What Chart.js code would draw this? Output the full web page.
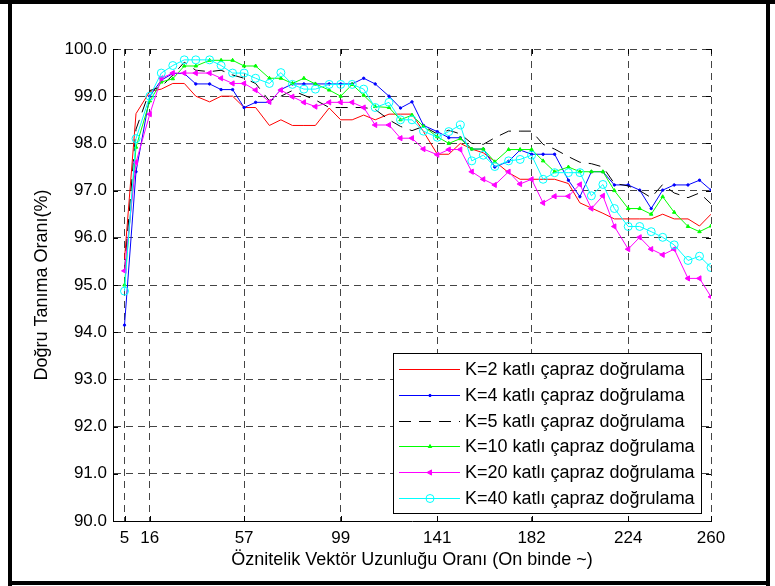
<!DOCTYPE html>
<html>
<head>
<meta charset="utf-8">
<script src="https://cdn.jsdelivr.net/npm/chart.js@4.4.1/dist/chart.umd.min.js"></script>
<style>
html,body{margin:0;padding:0;background:#fff;}
#wrap{position:relative;width:775px;height:586px;}
</style>
</head>
<body>
<div id="wrap"><canvas id="c" width="775" height="586"></canvas></div>
<script>
// ---- data ----
const xValues = [5,10,16,21,26,31,36,42,47,52,57,62,68,73,78,83,88,94,99,104,109,114,120,125,130,135,141,146,151,156,161,166,172,177,182,187,192,198,203,208,213,218,224,229,234,239,244,250,255,260];
const xTickValues = [5,16,57,99,141,182,224,260];
const yMin = 90, yMax = 100, yStep = 1;
const seriesLabels = [
  "K=2 katlı çapraz doğrulama",
  "K=4 katlı çapraz doğrulama",
  "K=5 katlı çapraz doğrulama",
  "K=10 katlı çapraz doğrulama",
  "K=20 katlı çapraz doğrulama",
  "K=40 katlı çapraz doğrulama"
];
const k2 = [95.55,98.63,99.1,99.15,99.27,99.27,99.0,98.88,99.0,99.0,98.76,98.76,98.38,98.5,98.38,98.38,98.38,98.75,98.5,98.5,98.6,98.5,98.62,98.62,98.62,98.25,97.77,97.77,98.0,97.88,97.8,97.62,97.38,97.24,97.24,97.24,97.24,97.15,96.74,96.63,96.52,96.4,96.4,96.4,96.4,96.5,96.4,96.4,96.25,96.5];
const k4 = [94.15,97.4,99.0,99.34,99.48,99.48,99.26,99.26,99.14,99.14,98.76,98.87,98.87,99.14,99.26,99.26,99.26,99.26,99.26,99.26,99.38,99.26,99.0,98.75,98.88,98.38,98.25,98.12,98.12,97.88,97.88,97.5,97.62,97.86,97.77,97.77,97.77,97.22,96.87,97.4,97.4,97.12,97.12,97.01,96.62,97.01,97.12,97.12,97.22,97.01];
const k5 = [95.3,98.3,99.12,99.2,99.45,99.72,99.55,99.52,99.55,99.45,99.38,99.27,98.9,99.0,99.12,99.02,98.92,98.76,98.76,98.76,98.76,98.72,98.5,98.36,98.27,98.36,98.2,98.28,98.2,98.0,97.98,98.12,98.26,98.26,98.26,97.98,97.88,97.72,97.6,97.57,97.5,97.15,97.1,97.0,96.85,97.13,96.95,96.85,96.95,96.72];
const k10 = [95.0,97.92,98.9,99.3,99.37,99.64,99.64,99.76,99.76,99.76,99.64,99.64,99.38,99.38,99.27,99.38,99.26,99.13,99.0,99.25,99.02,98.78,98.76,98.5,98.6,98.36,98.14,98.0,98.1,97.88,97.88,97.61,97.87,97.87,97.87,97.63,97.4,97.5,97.4,97.4,97.4,97.0,96.62,96.62,96.5,96.87,96.54,96.24,96.13,96.25];
const k20 = [95.3,97.6,98.62,99.38,99.49,99.49,99.49,99.49,99.38,99.27,99.27,99.13,98.88,99.13,98.99,98.87,98.78,98.87,98.87,98.87,98.76,98.39,98.39,98.11,98.11,97.88,97.76,97.87,97.87,97.4,97.24,97.12,97.4,97.14,97.24,96.74,96.88,96.88,97.13,96.62,96.89,96.24,95.76,96.01,95.76,95.64,95.76,95.14,95.14,94.75];
const k40 = [94.87,98.1,99.0,99.49,99.65,99.77,99.77,99.77,99.65,99.49,99.49,99.38,99.27,99.5,99.25,99.15,99.15,99.25,99.25,99.25,99.15,98.76,98.87,98.5,98.5,98.26,98.13,98.25,98.39,97.63,97.75,97.51,97.63,97.66,97.75,97.24,97.38,97.38,97.38,96.89,97.13,96.62,96.24,96.24,96.13,96.01,95.85,95.52,95.61,95.37];
const xTitle = "Öznitelik Vektör Uzunluğu Oranı (On binde ~)";
const yTitle = "Doğru Tanıma Oranı(%)";

// ---- styles ----
const FONT = "'Liberation Sans', Arial, Helvetica, sans-serif";
const seriesValues = [k2, k4, k5, k10, k20, k40];
const styles = [
  {color:'#ff0000', dash:[], pointStyle:'circle', radius:0, rotation:0, fill:'#ff0000'},
  {color:'#0000ff', dash:[], pointStyle:'circle', radius:1.2, rotation:0, fill:'#0000ff'},
  {color:'#000000', dash:[12,8], pointStyle:'circle', radius:0, rotation:0, fill:'#000000'},
  {color:'#00ff00', dash:[], pointStyle:'triangle', radius:2, rotation:0, fill:'#00ff00'},
  {color:'#ff00ff', dash:[], pointStyle:'triangle', radius:3, rotation:-90, fill:'#ff00ff'},
  {color:'#00ffff', dash:[], pointStyle:'circle', radius:4, rotation:0, fill:'rgba(0,0,0,0)'}
];

const datasets = seriesValues.map((arr, i) => ({
  label: seriesLabels[i],
  data: xValues.map((x, j) => ({x: x, y: arr[j]})),
  borderColor: styles[i].color,
  borderWidth: 1,
  borderDash: styles[i].dash,
  pointStyle: styles[i].pointStyle,
  pointRadius: styles[i].radius,
  pointRotation: styles[i].rotation,
  pointBackgroundColor: styles[i].fill,
  pointBorderColor: styles[i].color,
  pointBorderWidth: 1,
  tension: 0,
  fill: false,
  order: seriesValues.length - 1 - i
}));

const frameAndLegend = {
  id: 'frameAndLegend',
  afterDraw(chart) {
    const ctx = chart.ctx;
    const xs = chart.scales.x, ys = chart.scales.y;
    const ca = chart.chartArea;
    ctx.save();
    // inward tick marks (left/right, bottom/top)
    ctx.strokeStyle = '#000';
    ctx.lineWidth = 1;
    ctx.setLineDash([]);
    ctx.beginPath();
    ys.ticks.forEach(t => {
      const py = Math.round(ys.getPixelForValue(t.value)) + 0.5;
      ctx.moveTo(ca.left, py); ctx.lineTo(ca.left + 5, py);
      ctx.moveTo(ca.right, py); ctx.lineTo(ca.right - 5, py);
    });
    xs.ticks.forEach(t => {
      const px = Math.round(xs.getPixelForValue(t.value)) + 0.5;
      ctx.moveTo(px, ca.bottom); ctx.lineTo(px, ca.bottom - 5);
      ctx.moveTo(px, ca.top); ctx.lineTo(px, ca.top + 5);
    });
    ctx.stroke();

    // legend box
    const bx = 393.5, by = 353.5, bw = 308, bh = 160;
    ctx.fillStyle = '#fff';
    ctx.fillRect(bx, by, bw, bh);
    ctx.strokeStyle = '#000';
    ctx.lineWidth = 1;
    ctx.strokeRect(bx, by, bw, bh);
    chart.data.datasets.forEach((ds, i) => {
      const yy = Math.round(369 + i * 25.8) + 0.5;
      ctx.save();
      ctx.strokeStyle = ds.borderColor;
      ctx.lineWidth = 1;
      ctx.setLineDash(ds.borderDash || []);
      ctx.beginPath();
      ctx.moveTo(399, yy); ctx.lineTo(460, yy);
      ctx.stroke();
      ctx.setLineDash([]);
      if (ds.pointRadius > 0) {
        ctx.fillStyle = ds.pointBackgroundColor;
        ctx.strokeStyle = ds.pointBorderColor;
        ctx.lineWidth = 1;
        Chart.helpers.drawPoint(ctx, {
          pointStyle: ds.pointStyle, radius: ds.pointRadius, rotation: ds.pointRotation,
          borderWidth: 1
        }, 430, yy);
      }
      ctx.restore();
      ctx.save();
      ctx.font = '18px ' + FONT;
      ctx.textBaseline = 'middle';
      ctx.textAlign = 'left';
      ctx.fillStyle = '#000';
      ctx.fillText(ds.label, 465, yy + 1);
      ctx.restore();
    });

    // outer frame
    ctx.fillStyle = '#000';
    ctx.fillRect(0, 0, 775, 4);
    ctx.fillRect(8, 0, 4, 586);
    ctx.fillRect(766, 0, 4, 586);
    ctx.fillRect(8, 581, 762, 4);
    ctx.restore();
  }
};

new Chart(document.getElementById('c'), {
  type: 'line',
  data: { datasets: datasets },
  options: {
    responsive: false,
    animation: false,
    devicePixelRatio: 1,
    layout: { padding: { left: 0, right: 64, top: 49, bottom: 0 } },
    plugins: { legend: { display: false }, tooltip: { enabled: false } },
    scales: {
      x: {
        type: 'linear',
        min: 0, max: 260,
        afterBuildTicks: s => { s.ticks = xTickValues.map(v => ({value: v})); },
        afterFit: s => { s.height = 65; },
        ticks: {
          autoSkip: false, maxRotation: 0, padding: 7, color: '#000',
          font: { family: FONT, size: 17 },
          callback: v => String(v)
        },
        grid: { color: '#444', lineWidth: 1, drawTicks: false },
        border: { display: true, color: '#000', width: 1, dash: [7,5] },
        title: { display: true, text: xTitle, color: '#000', font: { family: FONT, size: 18 }, padding: { top: 0, bottom: 15 } }
      },
      y: {
        type: 'linear',
        min: yMin, max: yMax,
        afterFit: s => { s.width = 113; },
        ticks: {
          stepSize: yStep, padding: 6, color: '#000',
          font: { family: FONT, size: 17 },
          callback: v => Number(v).toFixed(1)
        },
        grid: { color: '#444', lineWidth: 1, drawTicks: false },
        border: { display: true, color: '#000', width: 1, dash: [7,5] },
        title: { display: true, text: yTitle, color: '#000', font: { family: FONT, size: 18 }, padding: { top: 31, bottom: 0 } }
      }
    }
  },
  plugins: [frameAndLegend]
});
</script>
</body>
</html>
